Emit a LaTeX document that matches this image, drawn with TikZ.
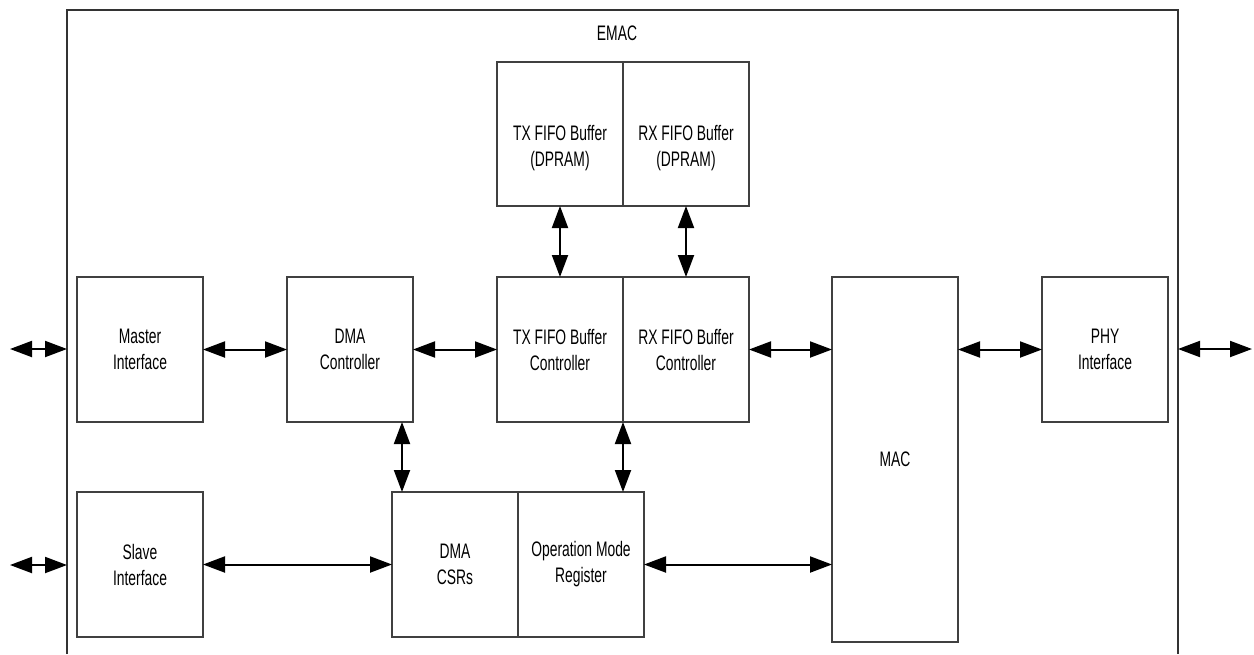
\documentclass[tikz,border=0pt]{standalone}
\usepackage{fontspec}
\setmainfont[FakeStretch=0.66]{Liberation Sans}
\usetikzlibrary{arrows.meta,calc}
\begin{document}
\begin{tikzpicture}[x=0.5pt,y=-0.5pt,
  txt/.style={font=\fontsize{10.5}{13}\selectfont, align=center, inner sep=0pt},
  box/.style={txt, draw=black!75, line width=0.6pt, minimum width=63pt, outer sep=0pt},
  sbox/.style={box, minimum height=72.5pt},
  link/.style={line width=1pt, {Triangle[length=11pt,width=8pt]}-{Triangle[length=11pt,width=8pt]}}]
\useasboundingbox (0,0) rectangle (1254,654);
% outer EMAC boundary (open at bottom)
\draw[black!80, line width=0.6pt] (67,654) -- (67,10) -- (1178,10) -- (1178,654);
\node[txt] (emac) at (617,33) {EMAC};

% blocks
\node[sbox] (master) at (140,349.5) {Master\\Interface};
\node[sbox] (dmac)   at (350,349.5) {DMA\\Controller};
\node[sbox] (txctl)  at (560,349.5) {TX FIFO Buffer\\Controller};
\node[sbox] (rxctl)  at (686,349.5) {RX FIFO Buffer\\Controller};
\node[sbox] (phy)    at (1105,349.5) {PHY\\Interface};
\node[box, minimum height=182.5pt] (mac) at (895,459.5) {MAC};
\node[box, minimum height=72pt, label={[txt,yshift=-7pt]center:{TX FIFO Buffer\\(DPRAM)}}] (txbuf) at (560,134) {};
\node[box, minimum height=72pt, label={[txt,yshift=-7pt]center:{RX FIFO Buffer\\(DPRAM)}}] (rxbuf) at (686,134) {};
\node[sbox] (slave)  at (140,564.5) {Slave\\Interface};
\node[sbox] (csr)    at (455,564.5) {DMA\\CSRs};
\node[sbox] (opm)    at (581,564.5) {Operation Mode\\Register};

% external boundary points
\coordinate (lext1) at (10,349);
\coordinate (lin1)  at (67,349);
\coordinate (lext2) at (10,565);
\coordinate (lin2)  at (67,565);
\coordinate (rin)   at (1178,349);
\coordinate (rext)  at (1252,349);
\coordinate (csrtop) at ($(csr.north west)+(10,0)$);

% connectors
\draw[link] (lext1) -- (lin1);
\draw[link] (lext2) -- (lin2);
\draw[link] (rin) -- (rext);
\draw[link] (master.east) -- (dmac.west);
\draw[link] (dmac.east) -- (txctl.west);
\draw[link] (rxctl.east) -- (rxctl.east -| mac.west);
\draw[link] (phy.west -| mac.east) -- (phy.west);
\draw[link] (txbuf.south) -- (txctl.north);
\draw[link] (rxbuf.south) -- (rxctl.north);
\draw[link] (csrtop |- dmac.south) -- (csrtop);
\draw[link] (txctl.south east) -- (txctl.south east |- opm.north);
\draw[link] (slave.east) -- (csr.west);
\draw[link] (opm.east) -- (opm.east -| mac.west);
\end{tikzpicture}
\end{document}
